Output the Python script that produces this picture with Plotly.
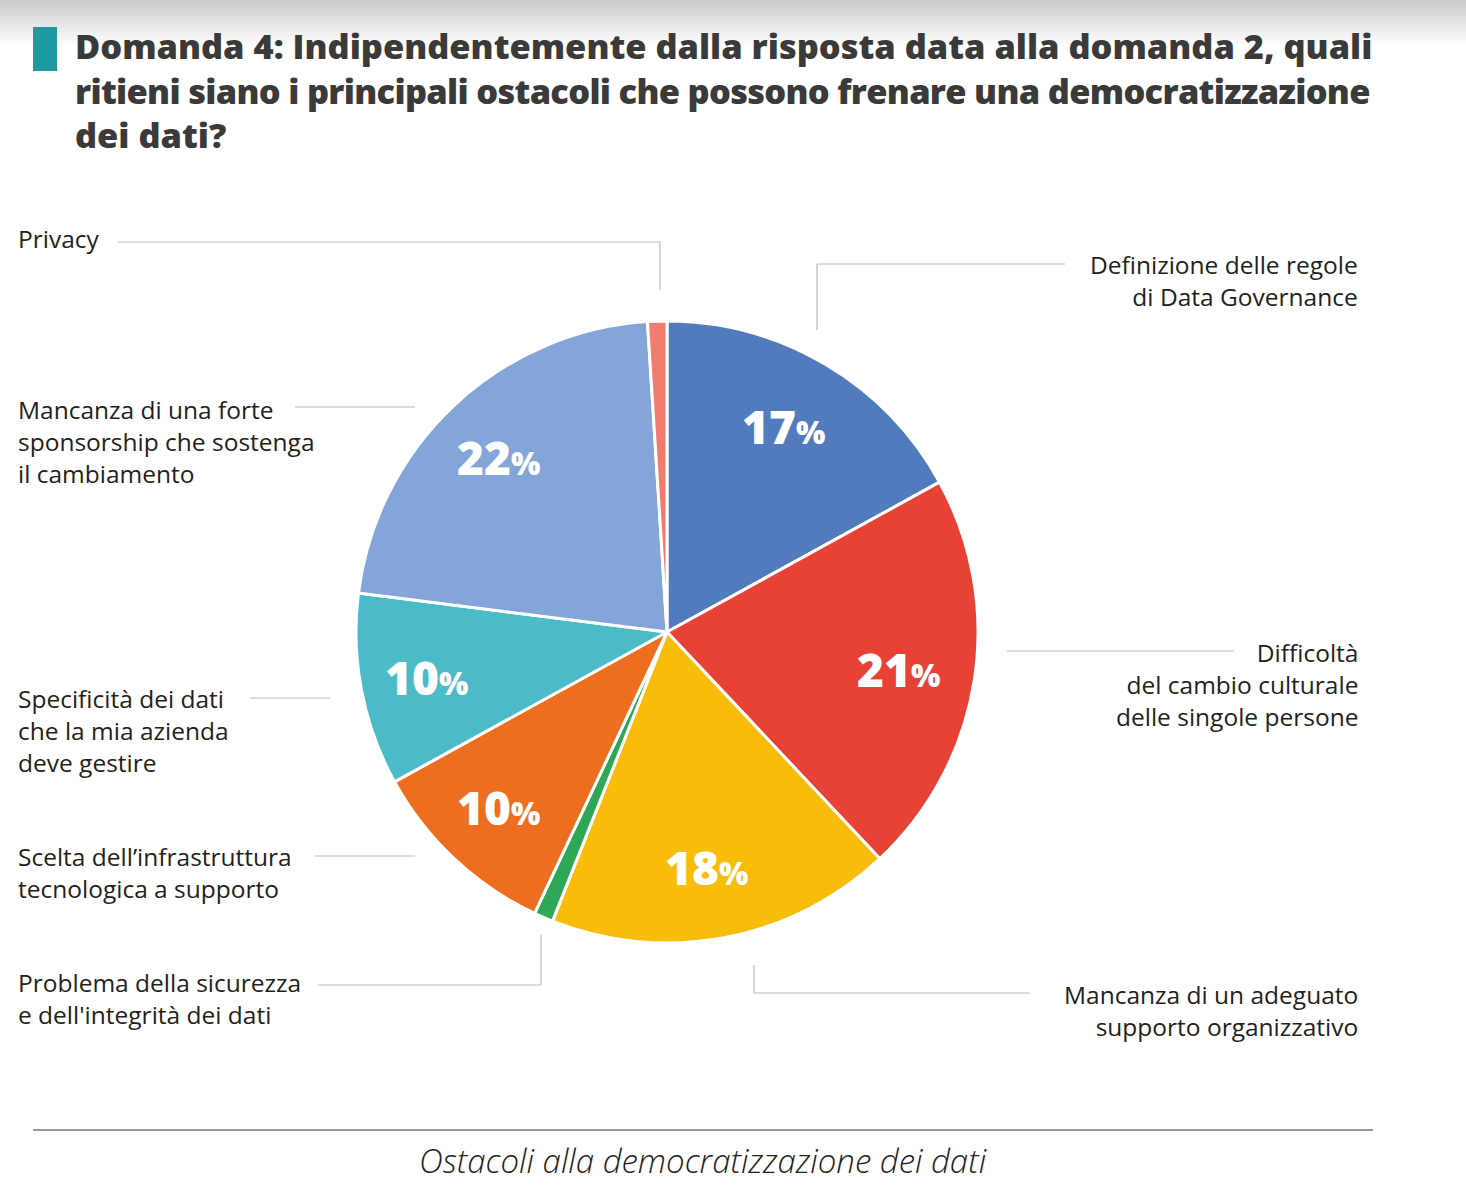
import math
import plotly.graph_objects as go

W, H = 1466, 1188

categories = [
    "Definizione delle regole di Data Governance",
    "Difficoltà del cambio culturale delle singole persone",
    "Mancanza di un adeguato supporto organizzativo",
    "Problema della sicurezza e dell'integrità dei dati",
    "Scelta dell’infrastruttura tecnologica a supporto",
    "Specificità dei dati che la mia azienda deve gestire",
    "Mancanza di una forte sponsorship che sostenga il cambiamento",
    "Privacy",
]
values = [17, 21, 18, 1, 10, 10, 22, 1]
colors = ["#517bbd", "#e84237", "#f8bd0a", "#2ea856", "#ed6e1f", "#4bbcc7", "#84a5d8", "#f07c70"]


def px(x):
    return x / W


def py(y):
    return 1 - y / H


cx, cy, r = 667, 632, 311

fig = go.Figure()
fig.add_trace(go.Pie(
    labels=categories,
    values=values,
    textinfo="none",
    hoverinfo="label+percent",
    sort=False,
    direction="clockwise",
    rotation=0,
    marker=dict(colors=colors, line=dict(color="white", width=3)),
    domain=dict(x=[px(cx - r), px(cx + r)], y=[py(cy + r), py(cy - r)]),
    showlegend=False,
))

annotations = []
# percentage labels placed at mid-angle of each slice (derived from values)
total = sum(values)
cum = 0
for v in values:
    mid = (cum + v / 2) / total * 2 * math.pi
    cum += v
    if v < 5:
        continue
    rr = 0.77 * r
    x = cx + rr * math.sin(mid) - 5
    y = cy - rr * math.cos(mid)
    annotations.append(dict(
        text=f"{v}<span style='font-size:31px'>%</span>",
        x=px(x), y=py(y), xref="paper", yref="paper", xanchor="center", yanchor="middle",
        showarrow=False, font=dict(family="Open Sans", size=46, color="white", weight=800)))

shapes = []
# top grey gradient
n = 12
for i in range(n):
    g = int(205 + (255 - 205) * i / (n - 1))
    shapes.append(dict(type="rect", xref="paper", yref="paper",
                       x0=0, x1=1, y0=py(4 * (i + 1)), y1=py(4 * i),
                       fillcolor=f"rgb({g},{g},{g})", line=dict(width=0), layer="below"))
# teal bar
shapes.append(dict(type="rect", xref="paper", yref="paper",
                   x0=px(33), x1=px(57), y0=py(71), y1=py(27),
                   fillcolor="#1e9aa0", line=dict(width=0)))
# bottom rule
shapes.append(dict(type="line", xref="paper", yref="paper",
                   x0=px(33), x1=px(1373), y0=py(1130), y1=py(1130),
                   line=dict(color="#777777", width=1.5)))

lc = "#bdbdbd"
leaders = [
    [(118, 242), (660, 242), (660, 290)],
    [(817, 330), (817, 264), (1065, 264)],
    [(1007, 651), (1234, 651)],
    [(754, 965), (754, 993), (1030, 993)],
    [(318, 985), (541, 985), (541, 935)],
    [(315, 856), (415, 856)],
    [(250, 698), (330, 698)],
    [(295, 407), (415, 407)],
]
for pts in leaders:
    for (x0, y0), (x1, y1) in zip(pts[:-1], pts[1:]):
        shapes.append(dict(type="line", xref="paper", yref="paper",
                           x0=px(x0), x1=px(x1), y0=py(y0), y1=py(y1),
                           line=dict(color=lc, width=1.2)))

lab_font = dict(family="Open Sans", size=24.5, color="#231f20")
left_labels = [
    ("Privacy", 16, 239),
    ("Mancanza di una forte<br>sponsorship che sostenga<br>il cambiamento", 16, 441),
    ("Specificità dei dati<br>che la mia azienda<br>deve gestire", 16, 731),
    ("Scelta dell’infrastruttura<br>tecnologica a supporto", 16, 872),
    ("Problema della sicurezza<br>e dell'integrità dei dati", 16, 998),
]
right_labels = [
    ("Definizione delle regole<br>di Data Governance", 1360, 280),
    ("Difficoltà<br>del cambio culturale<br>delle singole persone", 1360, 684),
    ("Mancanza di un adeguato<br>supporto organizzativo", 1360, 1010),
]
for t, x, y in left_labels:
    annotations.append(dict(text=t, x=px(x), y=py(y), xref="paper", yref="paper",
                            xanchor="left", yanchor="middle", align="left",
                            showarrow=False, font=lab_font))
for t, x, y in right_labels:
    annotations.append(dict(text=t, x=px(x), y=py(y), xref="paper", yref="paper",
                            xanchor="right", yanchor="middle", align="right",
                            showarrow=False, font=lab_font))

title_font = dict(family="Open Sans", size=34.4, color="#3a3a3a", weight=800)
annotations.append(dict(
    text="Domanda 4: Indipendentemente dalla risposta data alla domanda 2, quali<br>"
         "<span style='letter-spacing:-0.7px'>ritieni siano i principali ostacoli che possono frenare una democratizzazione</span><br>"
         "dei dati?",
    x=px(73), y=py(90), xref="paper", yref="paper", xanchor="left", yanchor="middle",
    align="left", showarrow=False, font=title_font))

annotations.append(dict(
    text="<i>Ostacoli alla democratizzazione dei dati</i>",
    x=px(703), y=py(1160), xref="paper", yref="paper", xanchor="center", yanchor="middle",
    showarrow=False, font=dict(family="Open Sans", size=33, color="#222222", weight=300)))

fig.update_layout(
    width=W, height=H,
    margin=dict(l=0, r=0, t=0, b=0),
    paper_bgcolor="white", plot_bgcolor="white",
    shapes=shapes, annotations=annotations,
)

fig.write_html("out.html", config={"displayModeBar": False})
